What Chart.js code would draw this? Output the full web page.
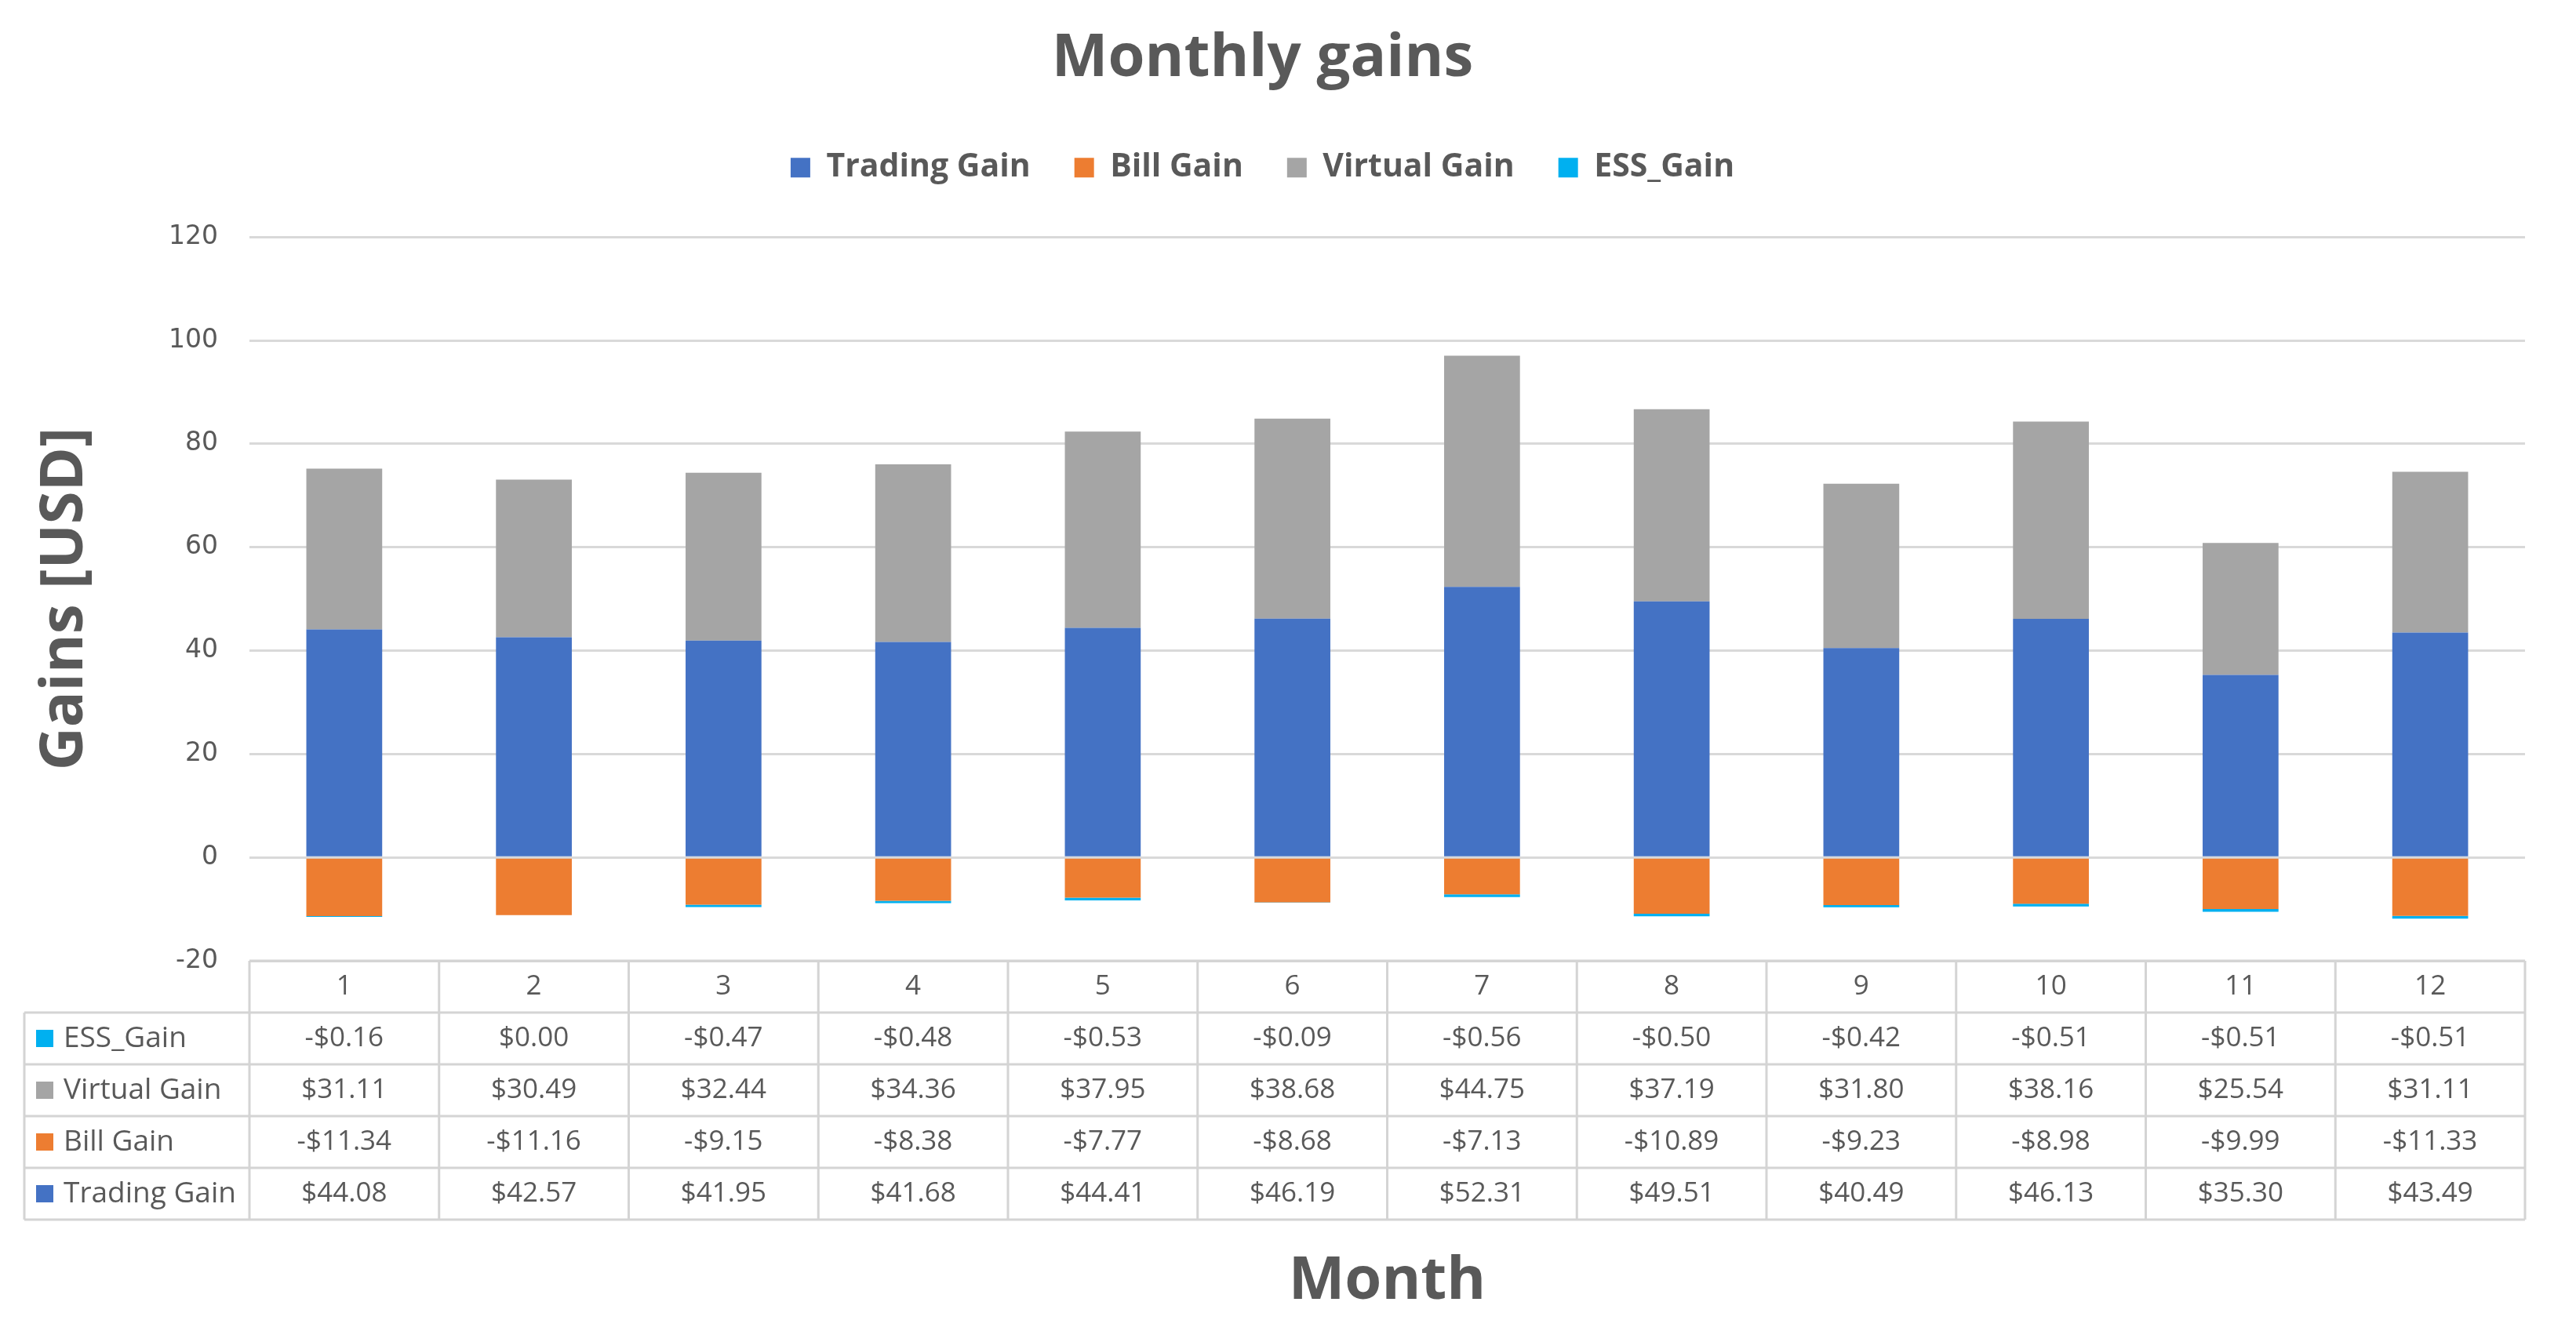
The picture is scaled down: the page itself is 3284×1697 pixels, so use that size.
<!DOCTYPE html>
<html>
<head>
<meta charset="utf-8">
<script src="https://cdn.jsdelivr.net/npm/chart.js@4"></script>
<style>
  html, body { margin: 0; padding: 0; background: #ffffff; }
  #wrap { width: 3284px; height: 1697px; }
</style>
</head>
<body>
<div id="wrap"><canvas id="gainsChart" width="3284" height="1697"></canvas></div>
<script>
const months = ['1', '2', '3', '4', '5', '6', '7', '8', '9', '10', '11', '12'];
const tradingGain = [44.08, 42.57, 41.95, 41.68, 44.41, 46.19, 52.31, 49.51, 40.49, 46.13, 35.30, 43.49];
const billGain = [-11.34, -11.16, -9.15, -8.38, -7.77, -8.68, -7.13, -10.89, -9.23, -8.98, -9.99, -11.33];
const virtualGain = [31.11, 30.49, 32.44, 34.36, 37.95, 38.68, 44.75, 37.19, 31.80, 38.16, 25.54, 31.11];
const essGain = [-0.16, 0.00, -0.47, -0.48, -0.53, -0.09, -0.56, -0.50, -0.42, -0.51, -0.51, -0.51];
const yTicks = [-20, 0, 20, 40, 60, 80, 100, 120];

const textColor = '#595959';
const lineColor = '#D9D9D9';
const mainFont = '"Open Sans", "Noto Sans", sans-serif';

// tabla de datos bajo el eje (como en Excel)
const labelColWidth = 287;
const rowHeight = 66;

function fmtMoney(v) {
    return (v < 0 ? '-$' : '$') + Math.abs(v).toFixed(2);
}

const dataTablePlugin = {
    id: 'dataTable',
    afterDraw(chart) {
        const { ctx, chartArea } = chart;
        const xScale = chart.scales.x;
        const colW = (chartArea.right - chartArea.left) / months.length;
        const top = chartArea.bottom;
        const left = chartArea.left - labelColWidth;
        // filas en orden inverso a los datasets
        const rows = chart.data.datasets.slice().reverse();
        const bottom = top + rowHeight * (rows.length + 1);

        ctx.save();
        ctx.strokeStyle = '#D4D4D4';
        ctx.lineWidth = 3;

        // líneas horizontales
        ctx.beginPath();
        ctx.moveTo(chartArea.left, top);
        ctx.lineTo(chartArea.right, top);
        for (let k = 1; k <= rows.length + 1; k++) {
            ctx.moveTo(left, top + rowHeight * k);
            ctx.lineTo(chartArea.right, top + rowHeight * k);
        }
        // líneas verticales
        for (let i = 0; i <= months.length; i++) {
            const xx = chartArea.left + colW * i;
            ctx.moveTo(xx, top);
            ctx.lineTo(xx, bottom);
        }
        ctx.moveTo(left, top + rowHeight);
        ctx.lineTo(left, bottom);
        ctx.stroke();

        ctx.fillStyle = textColor;
        ctx.font = '35px ' + mainFont;
        ctx.textAlign = 'center';
        ctx.textBaseline = 'middle';

        // cabecera con los meses
        months.forEach((m, i) => {
            ctx.fillText(m, xScale.getPixelForValue(i), top + rowHeight / 2);
        });

        rows.forEach((ds, r) => {
            const cy = top + rowHeight * (r + 1.5);
            ctx.fillStyle = ds.backgroundColor;
            ctx.fillRect(left + 15, cy - 11, 22, 22);
            ctx.fillStyle = textColor;
            ctx.textAlign = 'left';
            ctx.font = '37px ' + mainFont;
            ctx.fillText(ds.label, left + 50, cy);
            ctx.textAlign = 'center';
            ctx.font = '35px ' + mainFont;
            ds.data.forEach((v, i) => {
                ctx.fillText(fmtMoney(v), xScale.getPixelForValue(i), cy);
            });
        });
        ctx.restore();
    }
};

const ctxGains = document.getElementById('gainsChart').getContext('2d');

new Chart(ctxGains, {
    type: 'bar',
    data: {
        labels: months,
        datasets: [
            { label: 'Trading Gain', data: tradingGain, backgroundColor: '#4472C4' },
            { label: 'Bill Gain', data: billGain, backgroundColor: '#ED7D31' },
            { label: 'Virtual Gain', data: virtualGain, backgroundColor: '#A5A5A5' },
            { label: 'ESS_Gain', data: essGain, backgroundColor: '#00B0F0' }
        ]
    },
    options: {
        responsive: false,
        animation: false,
        layout: { padding: { top: 0, left: 0, right: 65, bottom: 0 } },
        datasets: {
            bar: { barPercentage: 0.4, categoryPercentage: 1.0, borderWidth: 0 }
        },
        plugins: {
            title: {
                display: true,
                text: 'Monthly gains',
                color: textColor,
                font: { family: mainFont, size: 76, weight: 'bold' },
                padding: { top: 30, bottom: 16 }
            },
            // bloque vacío para separar la leyenda del área del gráfico
            subtitle: {
                display: true,
                text: ' ',
                weight: 500,
                font: { size: 10 },
                padding: { top: 0, bottom: 46 }
            },
            legend: {
                position: 'top',
                labels: {
                    color: textColor,
                    font: { family: mainFont, size: 41, weight: 'bold' },
                    boxWidth: 25,
                    boxHeight: 25,
                    padding: 56
                }
            },
            tooltip: { enabled: false }
        },
        scales: {
            x: {
                stacked: true,
                grid: { display: false },
                border: { display: false },
                ticks: { display: false },
                title: {
                    display: true,
                    text: 'Month',
                    color: textColor,
                    font: { family: mainFont, size: 76, weight: 'bold' },
                    padding: { top: 0, bottom: 17 }
                },
                afterFit: function (scale) {
                    scale.height = 472;
                }
            },
            y: {
                stacked: true,
                min: yTicks[0],
                max: yTicks[yTicks.length - 1],
                grid: { color: lineColor, lineWidth: 3, drawTicks: false },
                border: { display: false },
                afterBuildTicks: function (scale) {
                    scale.ticks = yTicks.map(v => ({ value: v }));
                },
                ticks: {
                    color: textColor,
                    font: { family: '"DejaVu Sans", sans-serif', size: 33 },
                    padding: 40
                },
                title: {
                    display: true,
                    text: 'Gains [USD]',
                    color: textColor,
                    font: { family: mainFont, size: 76, weight: 'bold' },
                    padding: { top: 38, bottom: 0 }
                },
                afterFit: function (scale) {
                    scale.width = 318;
                }
            }
        }
    },
    plugins: [dataTablePlugin]
});
</script>
</body>
</html>
